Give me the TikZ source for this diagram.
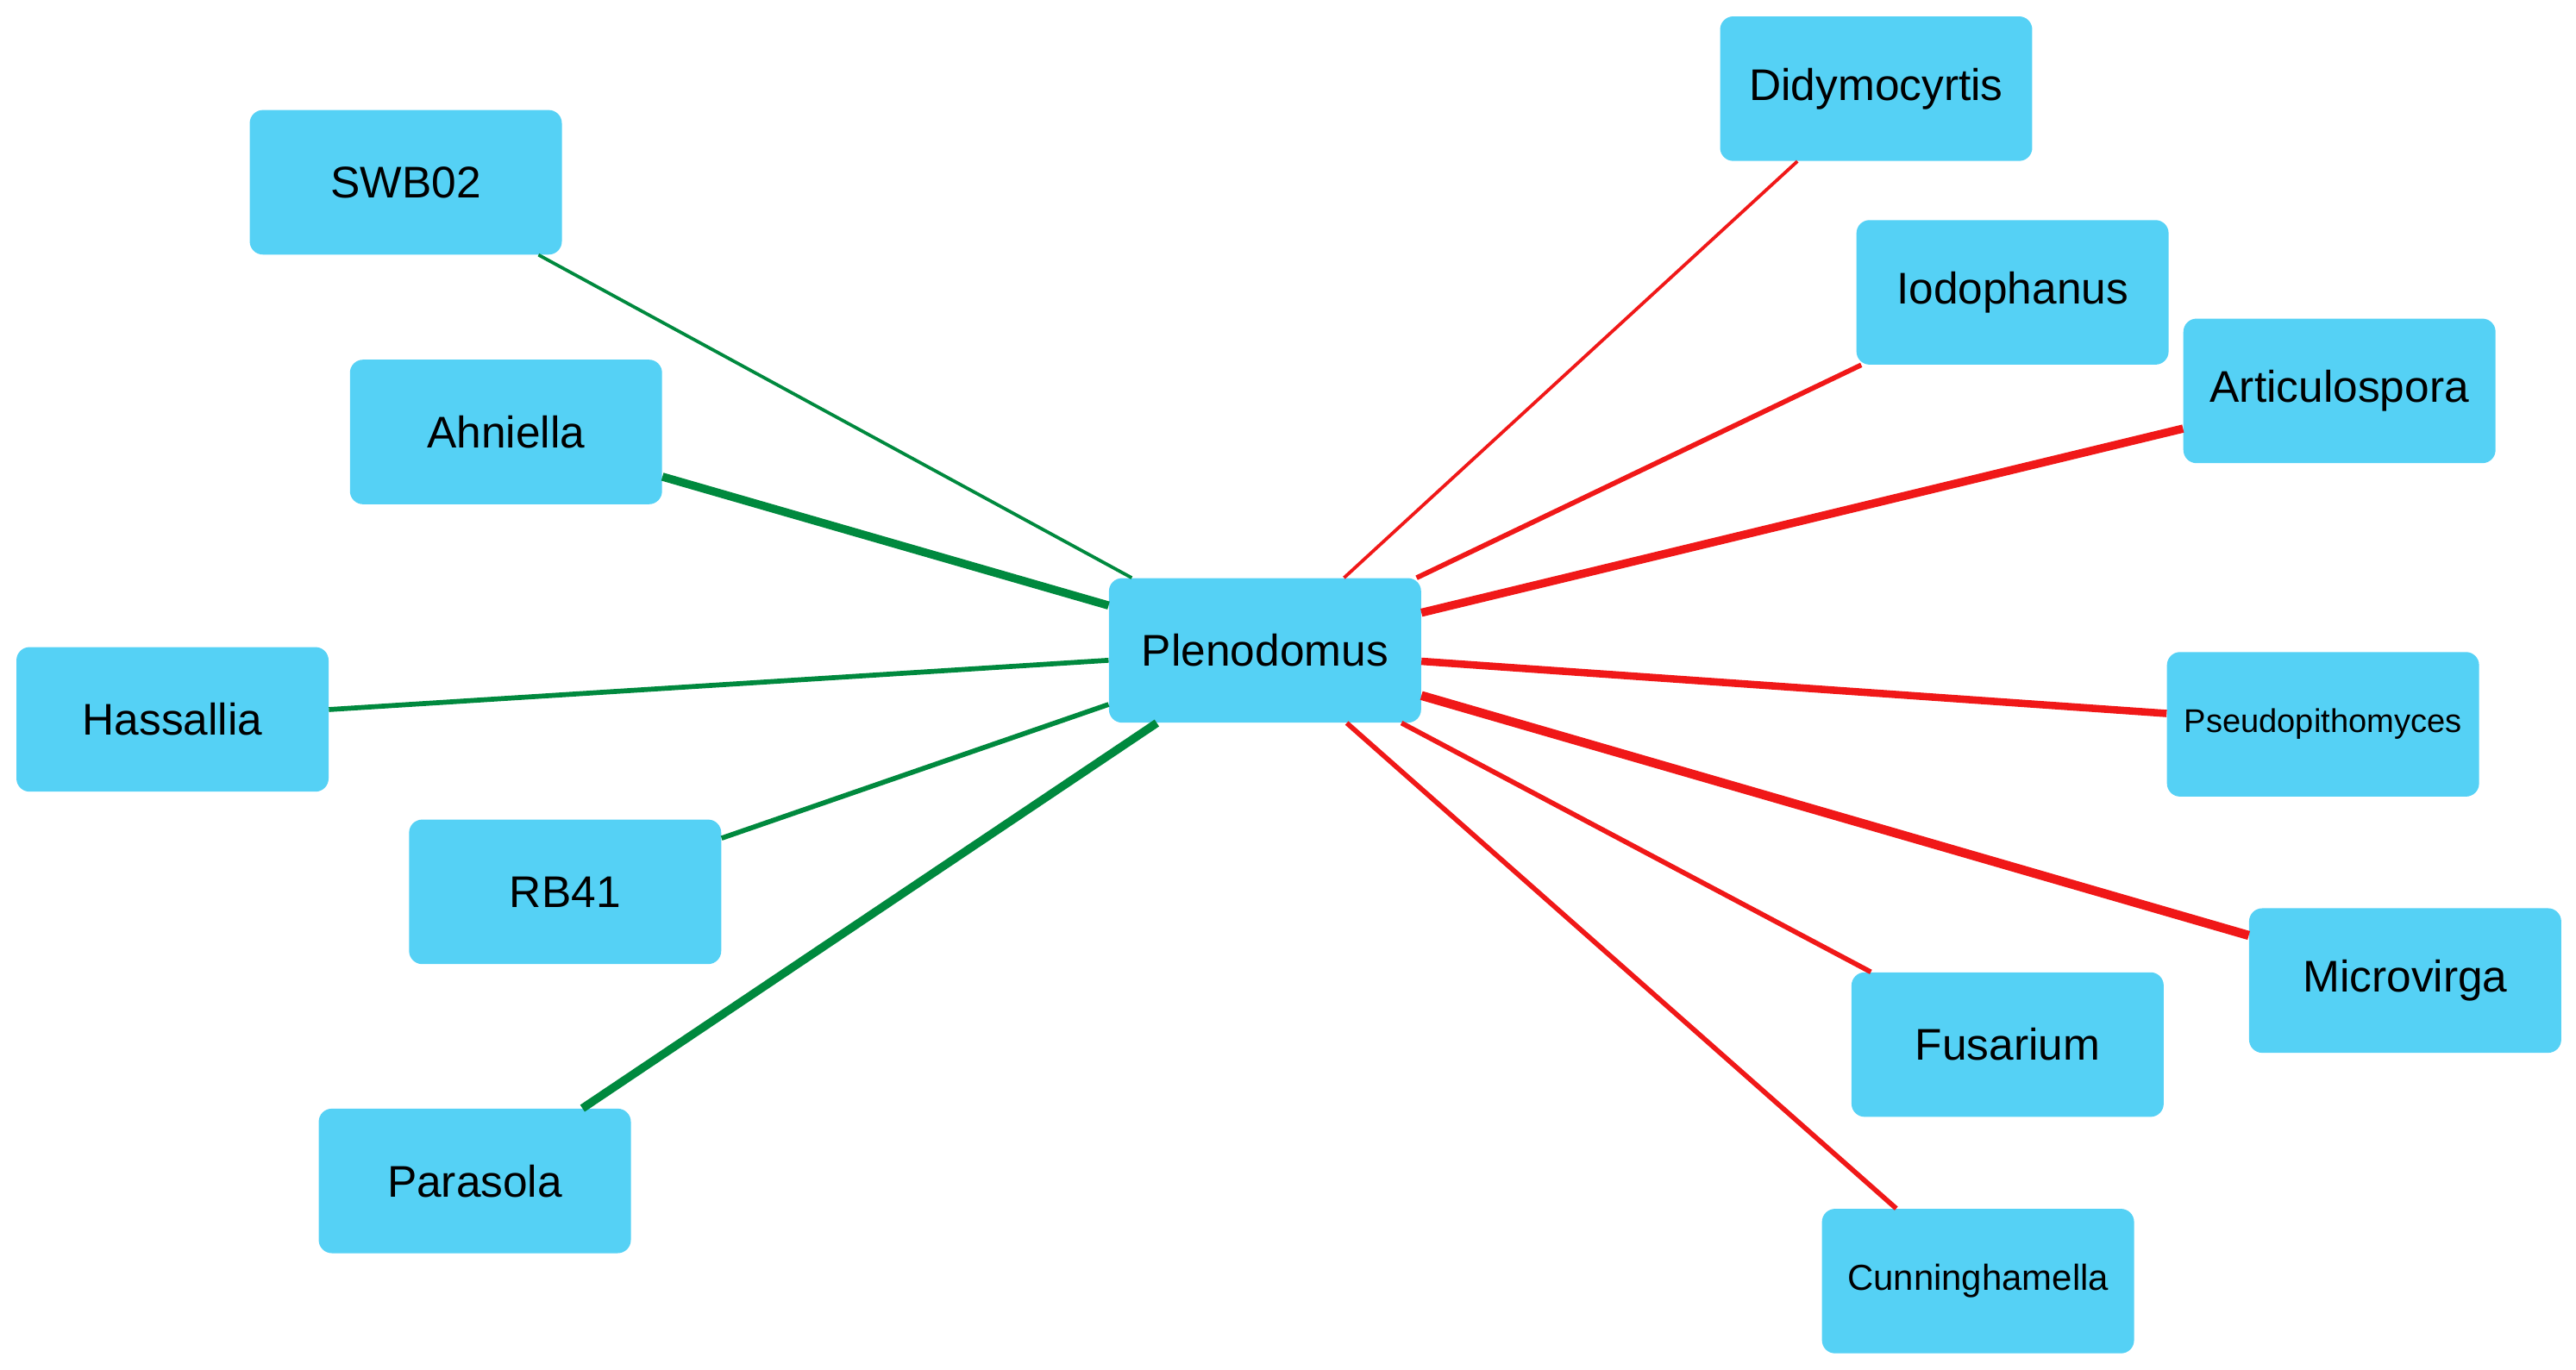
\documentclass[tikz,border=0pt]{standalone}
\usepackage{fontspec}
\setmainfont{Liberation Sans}
\definecolor{nodeblue}{RGB}{85,209,245}
\definecolor{eg}{RGB}{0,137,62}
\definecolor{er}{RGB}{240,24,24}
\begin{document}
\begin{tikzpicture}[x=1pt,y=-1pt,
  n/.style={rectangle,rounded corners=8pt,fill=nodeblue,minimum width=190pt,minimum height=88pt,font=\fontsize{27}{30}\selectfont,inner sep=0pt},
  g/.style={draw=eg},r/.style={draw=er},
  t1/.style={line width=2pt},t2/.style={line width=3pt},t3/.style={line width=5pt}]
\useasboundingbox (0,0) rectangle (1568,834);
\node[n] (p) at (770,396) {Plenodomus};
\node[n] (swb) at (247,111) {SWB02};
\node[n] (ah) at (308,263) {Ahniella};
\node[n] (ha) at (105,438) {Hassallia};
\node[n] (rb) at (344,543) {RB41};
\node[n] (pa) at (289,719) {Parasola};
\node[n] (di) at (1142,54) {Didymocyrtis};
\node[n] (io) at (1225,178) {Iodophanus};
\node[n] (ar) at (1424,238) {Articulospora};
\node[n,font=\fontsize{20}{24}\selectfont] (ps) at (1414,441) {Pseudopithomyces};
\node[n] (mi) at (1464,597) {Microvirga};
\node[n] (fu) at (1222,636) {Fusarium};
\node[n,font=\fontsize{22}{26}\selectfont] (cu) at (1204,780) {Cunninghamella};
\begin{scope}[on background layer/.try]
\end{scope}
\draw[g,t1] (p) -- (swb);
\draw[g,t3] (p) -- (ah);
\draw[g,t2] (p) -- (ha);
\draw[g,t2] (p) -- (rb);
\draw[g,t3] (p) -- (pa);
\draw[r,t1] (p) -- (di);
\draw[r,t2] (p) -- (io);
\draw[r,t3] (p) -- (ar);
\draw[r,line width=4.5pt] (p) -- (ps);
\draw[r,line width=5.5pt] (p) -- (mi);
\draw[r,t2] (p) -- (fu);
\draw[r,t2] (p) -- (cu);
\end{tikzpicture}
\end{document}
